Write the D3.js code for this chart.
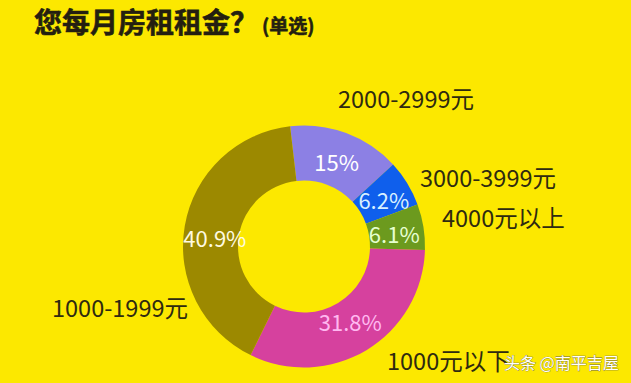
<!DOCTYPE html>
<html><head><meta charset="utf-8">
<script src="https://cdn.jsdelivr.net/npm/d3@7"></script>
<style>
html,body{margin:0;padding:0;background:#FCE800;}
svg{display:block;}
text{font-family:"Noto Sans CJK SC","Noto Sans",sans-serif;}
</style></head>
<body>
<script>
const categories = ["2000-2999元","3000-3999元","4000元以上","1000元以下","1000-1999元"];
const values = [15, 6.2, 6.1, 31.8, 40.9];
const valueLabels = ["15%","6.2%","6.1%","31.8%","40.9%"];
const colors = ["#8C80E4","#0F5FEC","#6C9A1E","#D6419E","#9C8900"];
const labelColors = ["#FFFFFF","#D8F0FF","#E6FFD0","#FFB8F0","#FFFBE0"];

const W = 631, H = 383;
const svg = d3.select("body").append("svg").attr("width", W).attr("height", H);
svg.append("rect").attr("width", W).attr("height", H).attr("fill", "#FCE800");

// title
const title = svg.append("text").attr("x", 34).attr("y", 33)
  .attr("fill", "#241F10").attr("font-weight", "bold")
  .attr("stroke", "#241F10").attr("stroke-width", 0.6);
title.append("tspan").attr("font-size", 28).text("您每月房租租金？");
title.append("tspan").attr("font-size", 19).attr("x", 262).attr("y", 33).text("(单选)");

const cx = 304, cy = 246.5, rOut = 121, rIn = 66;
const start = -0.115;
const pie = d3.pie().sort(null).value(d => d).startAngle(start).endAngle(start + 2 * Math.PI);
const arcs = pie(values);
const arc = d3.arc().innerRadius(rIn).outerRadius(rOut);
const g = svg.append("g").attr("transform", `translate(${cx},${cy})`);
g.selectAll("path").data(arcs).enter().append("path")
  .attr("d", arc).attr("fill", (d, i) => colors[i]);

const pctOffsets = [[0, 2], [0, 1], [-2, 2], [-2, -6], [3, 6]];
g.selectAll("text.pct").data(arcs).enter().append("text")
  .attr("class", "pct")
  .attr("x", (d, i) => arc.centroid(d)[0] + pctOffsets[i][0])
  .attr("y", (d, i) => arc.centroid(d)[1] + pctOffsets[i][1])
  .attr("text-anchor", "middle").attr("dominant-baseline", "central")
  .attr("font-size", 22).attr("fill", (d, i) => labelColors[i])
  .text((d, i) => valueLabels[i]);

// outside labels
const outPos = [[338, 108], [420, 187], [442, 227], [387, 370], [52, 317]];
svg.selectAll("text.cat").data(categories).enter().append("text")
  .attr("class", "cat")
  .attr("x", (d, i) => outPos[i][0]).attr("y", (d, i) => outPos[i][1])
  .attr("font-size", 23.5).attr("fill", "#2E2A10")
  .text(d => d);

// watermark
svg.append("text").attr("x", 504).attr("y", 369).attr("font-size", 16)
  .attr("fill", "#FFFFFF").attr("stroke", "#6A6450").attr("stroke-width", 0.6)
  .attr("paint-order", "stroke")
  .text("头条 @南平吉屋");
</script>
</body></html>
